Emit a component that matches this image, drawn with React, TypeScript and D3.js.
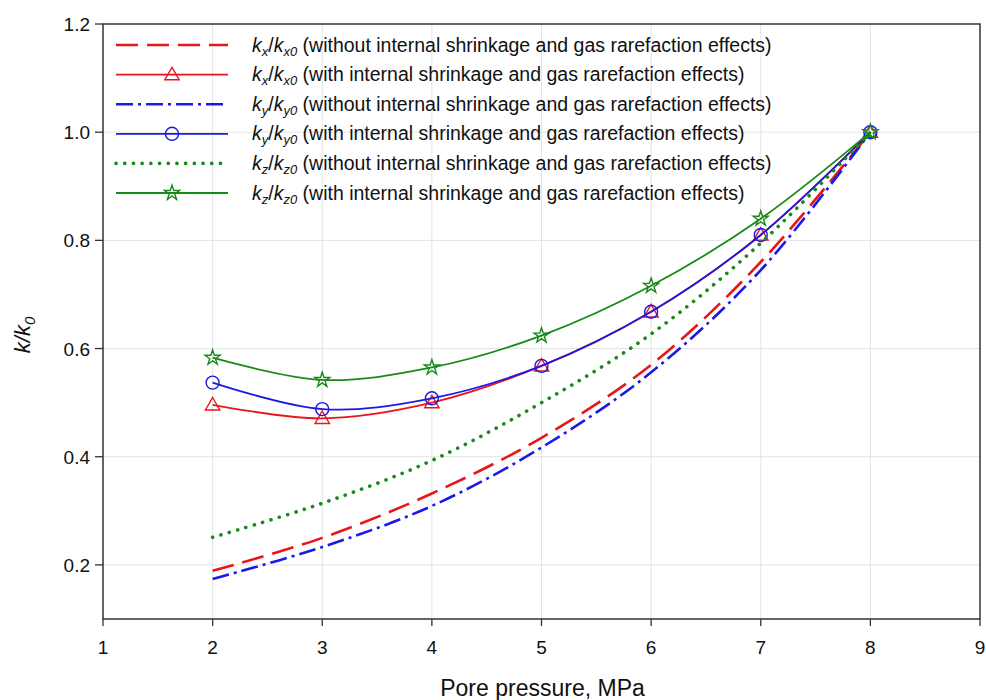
import React from "react";
import * as d3 from "d3";

const pressure = [2, 3, 4, 5, 6, 7, 8];

const kxWithout = [0.189, 0.25, 0.332, 0.435, 0.57, 0.76, 1.0];
const kxWith = [0.496, 0.471, 0.5, 0.568, 0.668, 0.81, 1.0];
const kyWithout = [0.174, 0.233, 0.309, 0.417, 0.556, 0.745, 1.0];
const kyWith = [0.537, 0.488, 0.508, 0.568, 0.668, 0.81, 1.0];
const kzWithout = [0.251, 0.314, 0.393, 0.5, 0.627, 0.795, 1.0];
const kzWith = [0.583, 0.542, 0.565, 0.624, 0.716, 0.84, 1.0];

const xTicks = [1, 2, 3, 4, 5, 6, 7, 8, 9];
const yTicks = [0.2, 0.4, 0.6, 0.8, 1.0, 1.2];

const legendDir = ["x", "x", "y", "y", "z", "z"];
const legendText = [
  "(without internal shrinkage and gas rarefaction effects)",
  "(with internal shrinkage and gas rarefaction effects)",
  "(without internal shrinkage and gas rarefaction effects)",
  "(with internal shrinkage and gas rarefaction effects)",
  "(without internal shrinkage and gas rarefaction effects)",
  "(with internal shrinkage and gas rarefaction effects)",
];

const W = 986;
const H = 700;
const left = 103;
const right = 980;
const top = 24;
const bottom = 619;
const FONT = "'Liberation Sans', Arial, sans-serif";

type Series = {
  values: number[];
  color: string;
  width: number;
  dash?: string;
  cap?: string;
  marker?: "triangle" | "circle" | "star";
};

const series: Series[] = [
  { values: kxWithout, color: "#e8161b", width: 2.6, dash: "22,9" },
  { values: kxWith, color: "#e8161b", width: 1.8, marker: "triangle" },
  { values: kyWithout, color: "#1a1ae6", width: 2.6, dash: "17,5,3,5" },
  { values: kyWith, color: "#1a1ae6", width: 1.8, marker: "circle" },
  { values: kzWithout, color: "#178a17", width: 3.6, dash: "0.1,8.6", cap: "round" },
  { values: kzWith, color: "#178a17", width: 1.8, marker: "star" },
];

function Marker({ kind, x, y, color }: { kind?: string; x: number; y: number; color: string }) {
  if (!kind) return null;
  if (kind === "circle") {
    return <circle cx={x} cy={y} r={6.5} fill="none" stroke={color} strokeWidth={1.4} />;
  }
  const sym = kind === "triangle" ? d3.symbolTriangle : d3.symbolStar;
  const size = kind === "triangle" ? 90 : 70;
  const dy = kind === "triangle" ? 1 : 0;
  return (
    <path
      d={d3.symbol(sym, size)() || ""}
      transform={`translate(${x},${y + dy})`}
      fill="none"
      stroke={color}
      strokeWidth={1.4}
    />
  );
}

export default function App() {
  const x = d3.scaleLinear().domain([1, 9]).range([left, right]);
  const y = d3.scaleLinear().domain([0.1, 1.2]).range([bottom, top]);

  const line = d3
    .line<number>()
    .x((_, i) => x(pressure[i]))
    .y((d) => y(d))
    .curve(d3.curveCatmullRom.alpha(0.5));

  const legX0 = 116;
  const legX1 = 228;
  const legText = 252;
  const legY0 = 45;
  const legStep = 29.6;

  return (
    <svg width={W} height={H} style={{ display: "block", position: "absolute", left: 0, top: 0 }} fontFamily={FONT}>
      <rect width={W} height={H} fill="#fff" />
      {/* grid */}
      {xTicks.slice(1, -1).map((t) => (
        <line key={"gx" + t} x1={x(t)} x2={x(t)} y1={top} y2={bottom} stroke="#e3e3e3" strokeWidth={1} />
      ))}
      {yTicks.slice(0, -1).map((t) => (
        <line key={"gy" + t} x1={left} x2={right} y1={y(t)} y2={y(t)} stroke="#e3e3e3" strokeWidth={1} />
      ))}

      {/* frame */}
      <rect x={left} y={top} width={right - left} height={bottom - top} fill="none" stroke="#333" strokeWidth={1.5} />

      {/* ticks */}
      {xTicks.map((t) => (
        <g key={"xt" + t}>
          <line x1={x(t)} x2={x(t)} y1={bottom} y2={bottom + 7} stroke="#333" strokeWidth={1.3} />
          <text x={x(t)} y={654} textAnchor="middle" fontSize={19} fill="#111">
            {t}
          </text>
        </g>
      ))}
      {yTicks.map((t) => (
        <g key={"yt" + t}>
          <line x1={left - 8} x2={left} y1={y(t)} y2={y(t)} stroke="#333" strokeWidth={1.3} />
          <text x={90} y={y(t) + 7} textAnchor="end" fontSize={19} fill="#111">
            {t.toFixed(1)}
          </text>
        </g>
      ))}

      {/* axis titles */}
      <text x={(left + right) / 2 + 1} y={696} textAnchor="middle" fontSize={23} fill="#111">
        Pore pressure, MPa
      </text>
      <text transform="translate(30,335) rotate(-90)" textAnchor="middle" fontSize={22} fill="#111" fontStyle="italic">
        k/k<tspan fontSize={15} dy={5}>0</tspan>
      </text>

      {/* series */}
      {series.map((s, si) => (
        <g key={"s" + si}>
          <path
            d={line(s.values) || ""}
            fill="none"
            stroke={s.color}
            strokeWidth={s.width}
            strokeDasharray={s.dash}
            strokeLinecap={(s.cap as any) || "butt"}
          />
          {s.marker &&
            s.values.map((v, i) => (
              <Marker key={i} kind={s.marker} x={x(pressure[i])} y={y(v)} color={s.color} />
            ))}
        </g>
      ))}

      {/* legend */}
      {series.map((s, i) => {
        const ly = legY0 + i * legStep;
        const d = legendDir[i];
        return (
          <g key={"lg" + i}>
            <line
              x1={legX0}
              x2={legX1}
              y1={ly}
              y2={ly}
              stroke={s.color}
              strokeWidth={s.width}
              strokeDasharray={s.dash}
              strokeLinecap={(s.cap as any) || "butt"}
            />
            <Marker kind={s.marker} x={(legX0 + legX1) / 2} y={ly} color={s.color} />
            <text x={legText} y={ly + 6.5} fontSize={19.5} fill="#111">
              <tspan fontStyle="italic">k</tspan>
              <tspan fontStyle="italic" fontSize={13} dy={4}>{d}</tspan>
              <tspan dy={-4}>/</tspan>
              <tspan fontStyle="italic">k</tspan>
              <tspan fontStyle="italic" fontSize={13} dy={4}>{d + "0"}</tspan>
              <tspan dy={-4}> {legendText[i]}</tspan>
            </text>
          </g>
        );
      })}
    </svg>
  );
}
